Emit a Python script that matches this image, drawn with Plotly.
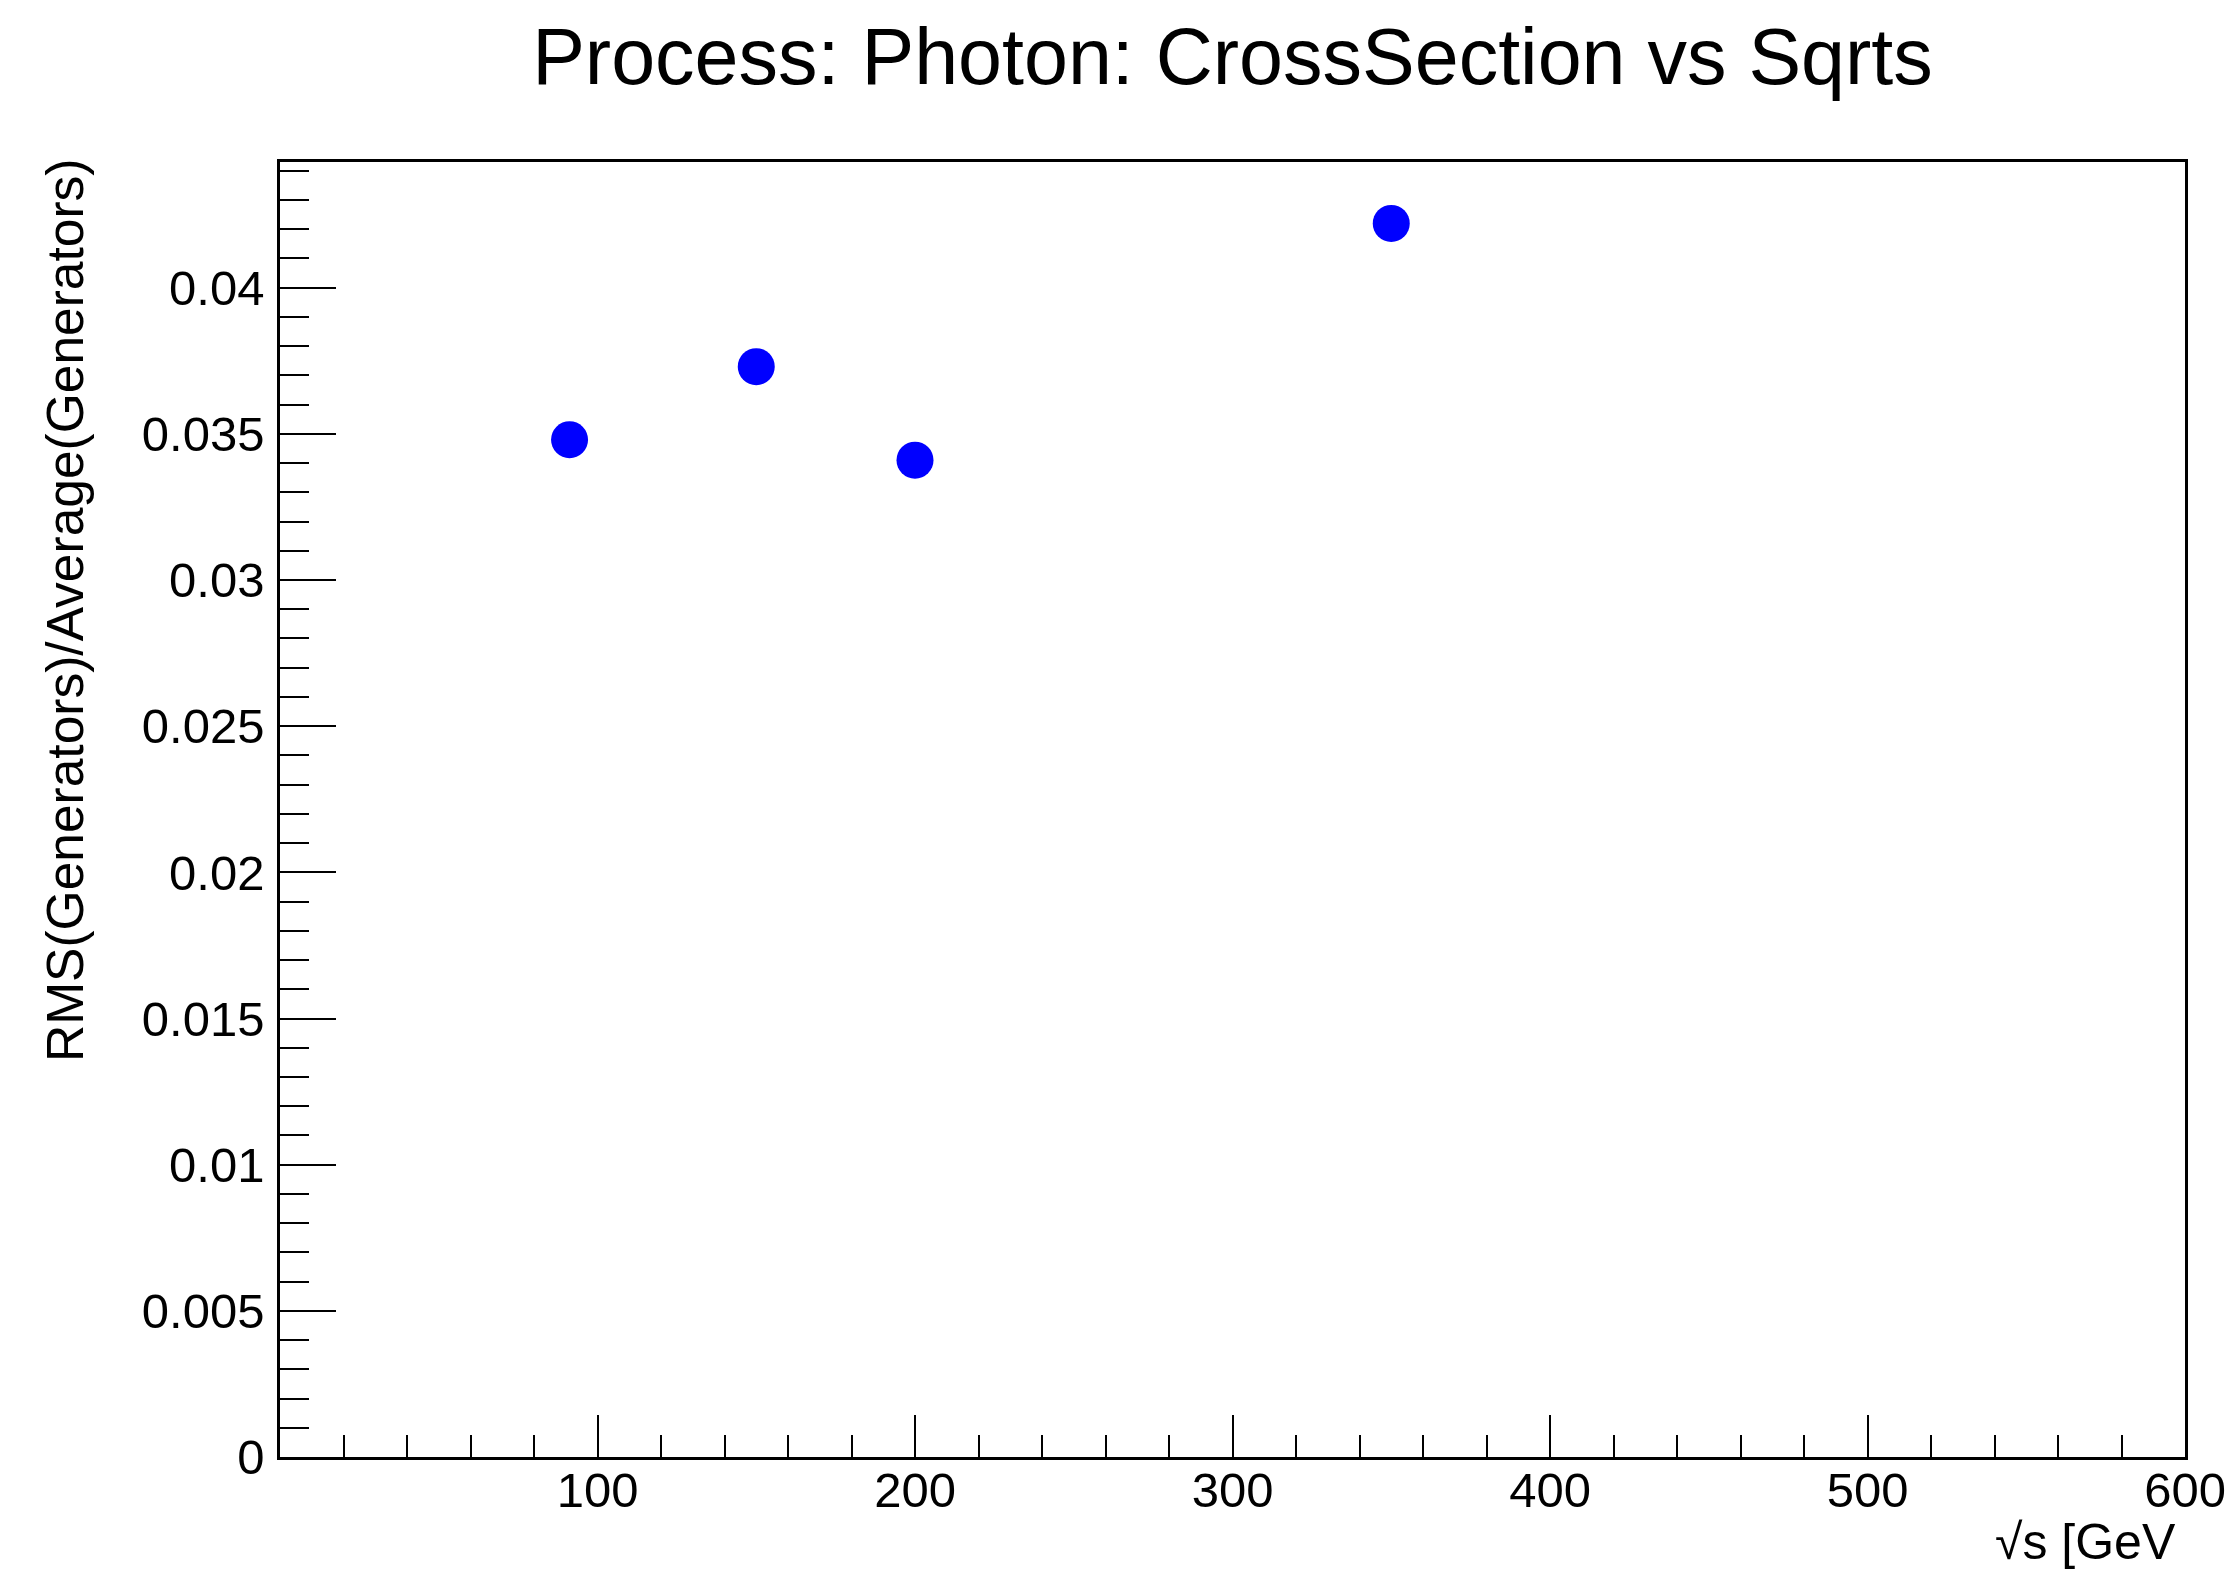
import plotly.graph_objects as go

# Data
sqrts = [91.2, 150, 200, 350]
rms_over_avg = [0.0348, 0.0373, 0.0341, 0.0422]
x_tick_vals = [100, 200, 300, 400, 500, 600]
x_tick_text = ["100", "200", "300", "400", "500", "600"]

title_text = "Process: Photon: CrossSection vs Sqrts"
x_title = "√s [GeV"
y_title = "RMS(Generators)/Average(Generators)"

FONT = "Liberation Sans, Helvetica, Arial, sans-serif"

fig = go.Figure()
fig.add_trace(go.Scatter(
    x=sqrts, y=rms_over_avg, mode="markers",
    marker=dict(color="#0000FF", size=37, line=dict(width=0)),
    showlegend=False,
))

fig.update_layout(
    width=2229, height=1572,
    margin=dict(l=280, r=44, t=162, b=115, autoexpand=False),
    paper_bgcolor="white", plot_bgcolor="white",
    font=dict(family=FONT, color="black"),
    title=dict(text=title_text, x=0.5, xref="paper", xanchor="center",
               y=1 - 56 / 1572, yref="container", yanchor="middle",
               font=dict(size=79, family=FONT, color="black")),
    xaxis=dict(range=[0, 600], showgrid=False, zeroline=False, automargin=False,
               showline=True, linecolor="black", linewidth=2.5, mirror=True,
               tickmode="array", tickvals=x_tick_vals, ticktext=x_tick_text,
               ticks="inside", ticklen=42, tickwidth=2, tickcolor="black",
               minor=dict(ticks="inside", ticklen=22, tickwidth=2, tickcolor="black",
                          tickmode="linear", tick0=0, dtick=20, showgrid=False),
               tickfont=dict(size=49, family=FONT, color="black"),
               ticklabelstandoff=-12),
    yaxis=dict(range=[0, 0.0443], showgrid=False, zeroline=False, automargin=False,
               showline=True, linecolor="black", linewidth=2.5, mirror=True,
               tick0=0, dtick=0.005,
               ticks="inside", ticklen=56, tickwidth=2, tickcolor="black",
               minor=dict(ticks="inside", ticklen=29, tickwidth=2, tickcolor="black",
                          dtick=0.001, showgrid=False),
               tickfont=dict(size=49, family=FONT, color="black"),
               ticklabelstandoff=3),
    annotations=[
        dict(text=x_title, xref="paper", yref="paper", x=0.9963, y=-0.066,
             xanchor="right", yanchor="middle", showarrow=False,
             font=dict(size=50, family=FONT, color="black")),
        dict(text=y_title, xref="paper", yref="paper", x=-0.1129, y=0.654,
             xanchor="center", yanchor="middle", textangle=-90, showarrow=False,
             font=dict(size=51.5, family=FONT, color="black")),
    ],
)

fig.write_html("out.html")
